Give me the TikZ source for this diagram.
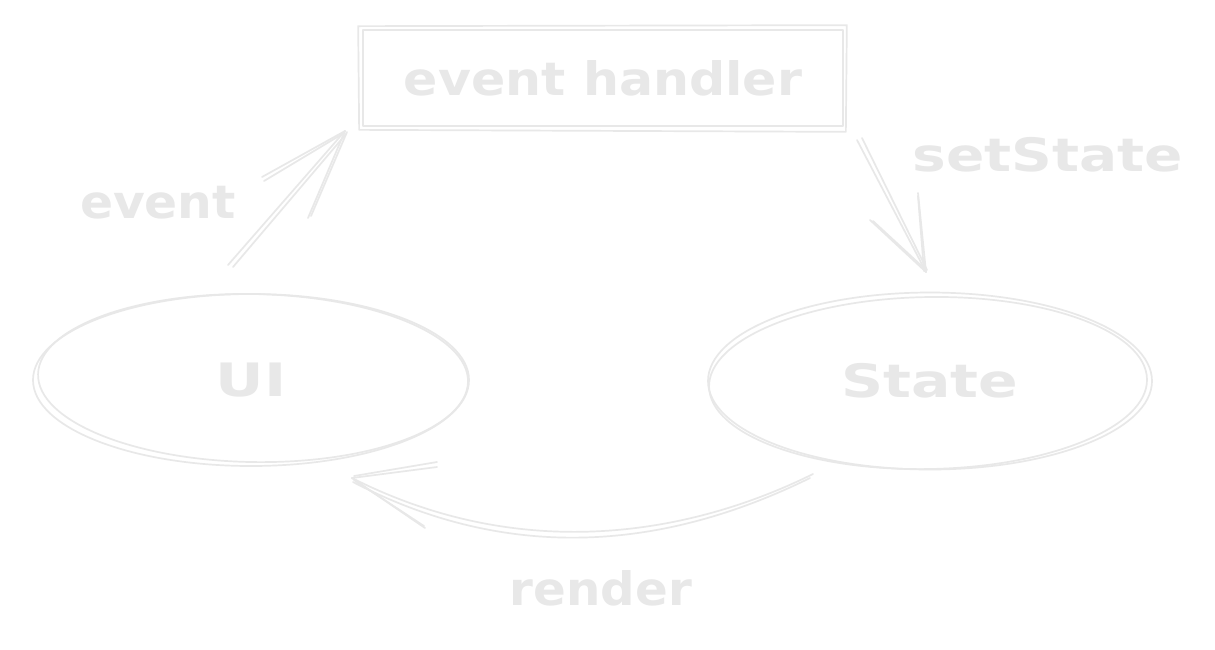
\documentclass[tikz,border=0pt]{standalone}
\usepackage{fontspec}
\setmainfont{DejaVu Sans}
\usetikzlibrary{shapes.geometric}
\definecolor{sk}{RGB}{232,232,232}
\tikzset{
  sketch/.style={draw=sk, line width=1.7pt, line cap=round, line join=round},
  lbl/.style={text=sk, font=\fontsize{46}{46}\selectfont\bfseries, inner sep=0pt, anchor=center},
}
\begin{document}
\begin{tikzpicture}[x=1pt,y=-1pt]
\useasboundingbox[fill=white] (0,0) rectangle (1215,649);

% nodes
\node[sketch, rectangle, minimum width=480pt, minimum height=96pt, inner sep=0pt] (eh) at (603,78) {};
\node[sketch, ellipse, minimum width=436pt, minimum height=172pt, inner sep=0pt] (ui) at (251,380) {};
\node[sketch, ellipse, minimum width=444pt, minimum height=177pt, inner sep=0pt] (st) at (930,381) {};

% second sketch strokes
\draw[sketch] ([shift={(-4,-3)}]eh.north west) -- ([shift={(3,-4)}]eh.north east) -- ([shift={(2,5)}]eh.south east) -- ([shift={(-3,3)}]eh.south west) -- cycle;
\draw[sketch, rotate around={-1:(ui.center)}] ([shift={(2,-2)}]ui.center) ellipse [x radius=215, y radius=84];
\draw[sketch, rotate around={1:(st.center)}] ([shift={(-2,2)}]st.center) ellipse [x radius=219, y radius=86];

% labels in nodes
\node[lbl] at (eh.center) {\scalebox{1.10}[1]{event handler}};
\node[lbl] at (ui.center) {\scalebox{1.30}[1]{UI}};
\node[lbl] at (st.center) {\scalebox{1.27}[1]{State}};

% connector end points
\coordinate (ea) at (228,265);
\coordinate (eb) at (345,131);
\coordinate (sa) at (857,140);
\coordinate (sb) at (926,272);
\coordinate (ra) at (813,474);
\coordinate (rb) at (352,478);

% event arrow
\draw[sketch] (ea) -- (eb);
\draw[sketch] ([shift={(5,2)}]ea) -- ([shift={(1,3)}]eb);
\draw[sketch] (eb) -- ++(-83,46);
\draw[sketch] ([shift={(-1,2)}]eb) -- ++(-80,48);
\draw[sketch] (eb) -- ++(-37,87);
\draw[sketch] ([shift={(2,1)}]eb) -- ++(-36,84);

% setState arrow
\draw[sketch] (sa) -- (sb);
\draw[sketch] ([shift={(5,-2)}]sa) -- ([shift={(1,-2)}]sb);
\draw[sketch] (sb) -- ++(-56,-52);
\draw[sketch] ([shift={(-1,-3)}]sb) -- ++(-52,-48);
\draw[sketch] (sb) -- ++(-8,-79);
\draw[sketch] ([shift={(-2,-1)}]sb) -- ++(-6,-75);

% render arrow
\draw[sketch] (ra) .. controls (700,530) and (530,568) .. (rb);
\draw[sketch] ([shift={(-3,4)}]ra) .. controls (690,537) and (530,574) .. ([shift={(1,4)}]rb);
\draw[sketch] (rb) -- ++(85,-11);
\draw[sketch] ([shift={(2,-2)}]rb) -- ++(83,-14);
\draw[sketch] (rb) -- ++(73,50);
\draw[sketch] ([shift={(2,2)}]rb) -- ++(70,46);

% connector labels
\node[lbl] (le) at (158,203) {\scalebox{1.06}[1]{event}};
\node[lbl] (ls) at (1048,155) {\scalebox{1.23}[1]{setState}};
\node[lbl] (lr) at (601,588) {\scalebox{1.05}[1]{render}};
\end{tikzpicture}
\end{document}
